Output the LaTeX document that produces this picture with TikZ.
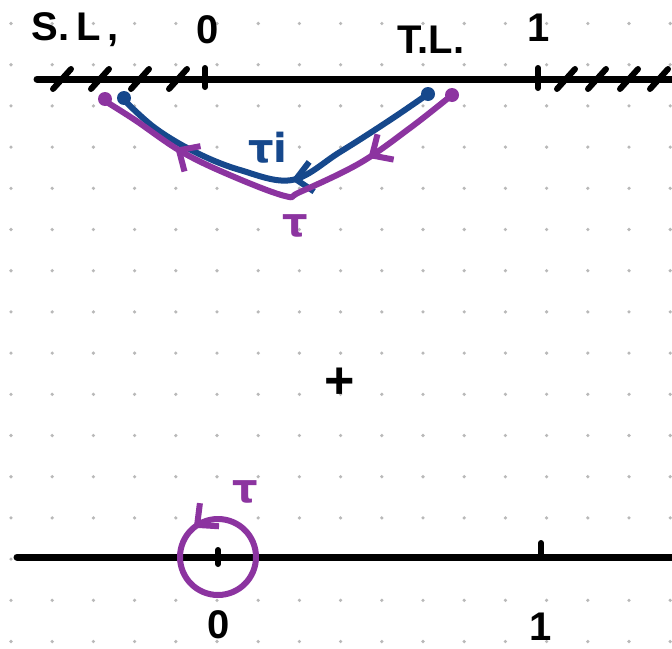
\documentclass[tikz,border=0pt]{standalone}
\usepackage{fontspec}
\setmainfont{Liberation Sans}
\newfontfamily\gfont{DejaVu Sans}
\usetikzlibrary{arrows.meta,decorations.markings}
\definecolor{hblue}{RGB}{22,72,140}
\definecolor{hpurple}{RGB}{140,52,160}
\definecolor{dotgray}{RGB}{185,185,185}
\tikzset{
  axis/.style={line width=7pt, line cap=round, black},
  hatch/.style={line width=6pt, line cap=round, black},
  curve/.style={line width=6pt, line cap=round, line join=round},
  lbl/.style={font=\fontsize{40}{42}\selectfont\bfseries, inner sep=0pt},
  glbl/.style={font=\gfont\fontsize{40}{42}\selectfont\bfseries, inner sep=0pt},
  endpt/.style={circle, inner sep=0pt, minimum size=14pt},
  barb/.tip={Straight Barb[length=16pt,width=30pt,line width=6pt]}
}
\begin{document}
\begin{tikzpicture}[x=1pt,y=-1pt]
\useasboundingbox (0,0) rectangle (672,648);
\fill[white] (0,0) rectangle (672,648);
% dot grid
\foreach \i in {0,...,16}{
  \foreach \j in {0,...,15}{
    \fill[dotgray] ({11+41.2*\i},{23.5+41.2*\j}) circle (1.8);
  }
}
% top axis
\coordinate (tl) at (37,79);
\coordinate (tr) at (672,79);
\draw[axis] (tl) -- (tr);
\foreach \x in {62,100,140,178}{
  \draw[hatch] (\x-9,89) -- (\x+9,69);
}
\draw[hatch] (205,68) -- (205,87);
\draw[hatch] (538,68) -- (538,88);
\foreach \x in {566,597,629,659}{
  \draw[hatch] (\x-9,89) -- (\x+9,69);
}
% labels top
\node[lbl] (sl) at (75,30) {S.\,L\,,};
\node[lbl] (z0) at (208,30) {0};
\node[lbl] (tlab) at (431,40) {T.L.};
\node[lbl] (o1) at (539,28) {1};
% endpoints
\node[endpt, fill=hpurple] (pL) at (105,99) {};
\node[endpt, fill=hblue] (bL) at (124,98) {};
\node[endpt, fill=hblue] (bR) at (428,94) {};
\node[endpt, fill=hpurple] (pR) at (452,95) {};
% blue curve (right to left)
\draw[curve, hblue, postaction={decorate}, decoration={markings,
   mark=at position 0.46 with {\arrow{barb}}}]
  plot[smooth, tension=0.6] coordinates {(428,94) (390,120) (340,152) (292,180) (240,170) (195,152) (155,128) (124,100)};
% purple curve (right to left)
\draw[curve, hpurple, postaction={decorate}, decoration={markings,
   mark=at position 0.26 with {\arrow{barb}},
   mark=at position 0.79 with {\arrow{barb}}}]
  plot[smooth, tension=0.6] coordinates {(452,95) (410,128) (360,163) (300,192) (285,196) (232,176) (182,152) (135,120) (105,101)};
\node[glbl, text=hblue] (tau1) at (268,148) {τi};
\node[glbl, text=hpurple] (tau2) at (295,226) {τ};
% plus
\node[lbl] (plus) at (340,383) {\fontsize{52}{54}\selectfont +};
% bottom axis
\coordinate (bl) at (17,557);
\coordinate (br) at (672,557);
\draw[axis] (bl) -- (br);
\draw[hatch] (218,550) -- (218,564);
\draw[hatch] (541,543) -- (541,557);
\node[lbl] (b0) at (219,625) {0};
\node[lbl] (b1) at (541,627) {1};
% circle
\coordinate (cc) at (218,557);
\draw[curve, hpurple, postaction={decorate}, decoration={markings,
   mark=at position 0.64 with {\arrowreversed{barb}}}]
  (cc) circle (38);
\node[glbl, text=hpurple] (tau3) at (245,492) {τ};
\end{tikzpicture}
\end{document}
